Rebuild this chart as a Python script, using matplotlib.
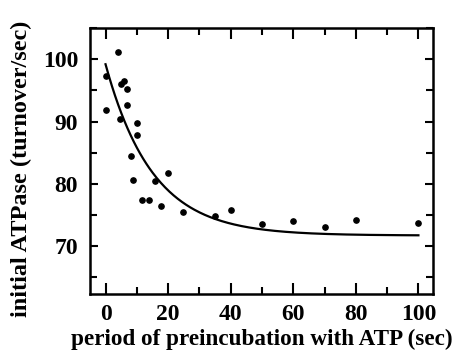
import numpy as np
import matplotlib
matplotlib.use("Agg")
import matplotlib.pyplot as plt
from matplotlib.ticker import MultipleLocator

# measured points: preincubation time (sec) vs initial ATPase (turnover/sec)
time_sec = [0, 0, 4, 4.6, 5, 6, 7, 7, 8, 8.8, 10, 10, 11.8, 14, 15.9, 17.8, 19.9,
            24.8, 35, 40, 50, 60, 70, 80, 100]
atpase = [97.3, 91.8, 101.2, 90.4, 96.1, 96.5, 95.2, 92.7, 84.5, 80.6, 89.7, 87.8,
          77.4, 77.4, 80.5, 76.5, 81.7, 75.5, 74.9, 75.8, 73.6, 74.1, 73.1, 74.2, 73.7]

# single exponential fit drawn through the data
fit_plateau = 71.7
fit_amplitude = 27.5
fit_tau = 15.0

xlabel = "period of preincubation with ATP (sec)"
ylabel = "initial ATPase (turnover/sec)"

plt.rcParams['font.family'] = ['Liberation Serif', 'DejaVu Serif']
plt.rcParams['font.weight'] = 'bold'

fig = plt.figure(figsize=(4.54, 3.56), dpi=100)
ax = fig.add_axes([0.198, 0.174, 0.756, 0.747])

t = np.linspace(0, 100, 300)
ax.plot(t, fit_plateau + fit_amplitude * np.exp(-t / fit_tau), color='black', lw=1.6)
ax.plot(time_sec, atpase, 'o', color='black', ms=3.8)

ax.set_xlim(-5, 104.7)
ax.set_ylim(62.3, 105)
ax.xaxis.set_major_locator(MultipleLocator(20))
ax.xaxis.set_minor_locator(MultipleLocator(10))
ax.yaxis.set_major_locator(MultipleLocator(10))
ax.yaxis.set_minor_locator(MultipleLocator(5))
ax.set_yticks([70, 80, 90, 100])

ax.tick_params(which='both', direction='in', top=True, right=True, width=1.5,
               labelsize=17)
ax.tick_params(axis='x', which='major', length=8, pad=7)
ax.tick_params(axis='x', which='minor', length=5)
ax.tick_params(axis='y', which='major', length=6, pad=8.5)
ax.tick_params(axis='y', which='minor', length=5)
for lbl in ax.get_xticklabels() + ax.get_yticklabels():
    lbl.set_fontweight('bold')
for sp in ax.spines.values():
    sp.set_linewidth(1.8)

ax.set_xlabel(xlabel, fontsize=16.7, fontweight='bold')
ax.set_ylabel(ylabel, fontsize=17.5, fontweight='bold')
ax.xaxis.set_label_coords(0.5, -0.13)
ax.yaxis.set_label_coords(-0.168, 0.47)

fig.savefig("out.png", dpi=100)
